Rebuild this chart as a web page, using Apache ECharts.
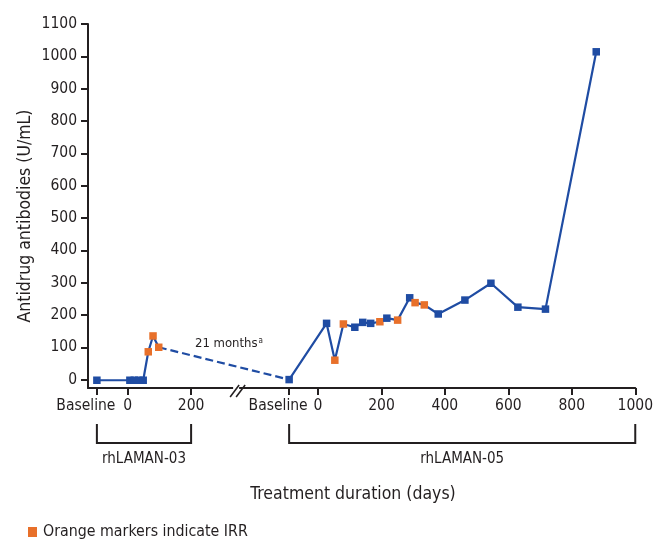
<!DOCTYPE html>
<html>
<head>
<meta charset="utf-8">
<script src="https://cdn.jsdelivr.net/npm/echarts@6/dist/echarts.min.js"></script>
<style>html,body{margin:0;padding:0;background:#fff}#c{width:656px;height:544px}</style>
</head>
<body>
<div id="c"></div>
<script>
// ---- data ----
const studies = ['rhLAMAN-03', 'rhLAMAN-05'];
const days03 = ['Baseline', 7, 21, 35, 49, 65, 80, 98];
const ada03  = [-2, -2, -2, -2, -2, 86, 135, 100];
const irr03  = [0, 0, 0, 0, 0, 1, 1, 1];
const days05 = ['Baseline', 27, 53, 80, 116, 141, 166, 195, 217, 251, 289, 306, 335, 379, 463, 545, 630, 717, 877];
const ada05  = [0, 174, 60, 172, 162, 177, 174, 179, 190, 184, 253, 238, 231, 203, 246, 298, 224, 218, 1014];
const irr05  = [0, 0, 1, 1, 0, 0, 0, 1, 0, 1, 0, 1, 1, 0, 0, 0, 0, 0, 0];
const xTicks03 = ['Baseline', 0, 200];
const xTicks05 = ['Baseline', 0, 200, 400, 600, 800, 1000];
const yTicks = [0, 100, 200, 300, 400, 500, 600, 700, 800, 900, 1000, 1100];
const gapLabel = '21 months';
const legendText = 'Orange markers indicate IRR';

// ---- layout helpers ----
const BLUE = '#1f4ca3', ORANGE = '#e8702a', INK = '#231f20';
const FONT = '"DejaVu Sans Condensed","Liberation Sans Narrow",sans-serif';
const SEG_OFFSET = [0, 600];
const BASELINE_POS = [-97, -91];
function toU(s, d) { return SEG_OFFSET[s] + (d === 'Baseline' ? BASELINE_POS[s] : d); }
function pts(s, days, vals, irr) {
  return days.map((d, i) => ({ value: [toU(s, d), vals[i]], itemStyle: { color: irr[i] ? ORANGE : BLUE } }));
}
const tickU = xTicks03.map(d => toU(0, d)).concat(xTicks05.map(d => toU(1, d)));
const tickText = xTicks03.map(String).concat(xTicks05.map(String));
function fmtX(v) {
  let best = 0, bd = Infinity;
  tickU.forEach((u, i) => { const dd = Math.abs(u - v); if (dd < bd) { bd = dd; best = i; } });
  const t = tickText[best];
  return t === 'Baseline' ? '{b|Baseline}' : t;
}

const chart = echarts.init(document.getElementById('c'), null, { renderer: 'canvas' });
const lineBase = {
  type: 'line', symbol: 'rect', symbolSize: 7.5, showAllSymbol: true,
  lineStyle: { color: BLUE, width: 2.2 }, itemStyle: { color: BLUE }, z: 3
};
chart.setOption({
  animation: false,
  textStyle: { fontFamily: FONT },
  grid: { left: 88, right: 20, top: 24, bottom: 156 },
  legend: {
    data: [{ name: legendText, icon: 'rect' }],
    left: 28, top: 524, padding: 0, itemWidth: 9, itemHeight: 10, itemGap: 5,
    textStyle: { fontSize: 15.8, color: INK, fontFamily: FONT, padding: [0, 0, 0, 1] }
  },
  xAxis: {
    type: 'value', min: -125, max: 1600,
    splitLine: { show: false },
    axisLine: { onZero: false, lineStyle: { color: INK, width: 2 } },
    axisTick: { customValues: tickU, length: 7, lineStyle: { color: INK, width: 2 } },
    axisLabel: {
      customValues: tickU, formatter: fmtX, margin: 10, fontSize: 15.5, color: INK, fontFamily: FONT,
      rich: { b: { fontSize: 15.5, color: INK, fontFamily: FONT, padding: [0, 22, 0, 0] } }
    }
  },
  yAxis: {
    type: 'value', min: -26, max: 1100,
    splitLine: { show: false },
    axisLine: { show: true, onZero: false, lineStyle: { color: INK, width: 2 } },
    axisTick: { show: true, customValues: yTicks, length: 7, lineStyle: { color: INK, width: 2 } },
    axisLabel: { customValues: yTicks, formatter: v => String(v), margin: 11, fontSize: 15.5, color: INK, fontFamily: FONT }
  },
  series: [
    {
      type: 'line', symbol: 'none', z: 2,
      data: [[toU(0, days03[days03.length - 1]), ada03[ada03.length - 1]], [toU(1, days05[0]), ada05[0]]],
      lineStyle: { color: BLUE, width: 2.2, type: [8, 4] }
    },
    Object.assign({}, lineBase, { name: studies[0], data: pts(0, days03, ada03, irr03) }),
    Object.assign({}, lineBase, { name: studies[1], data: pts(1, days05, ada05, irr05) }),
    { type: 'line', name: legendText, data: [], itemStyle: { color: ORANGE }, lineStyle: { color: ORANGE } }
  ]
});

const xPix = u => chart.convertToPixel({ xAxisIndex: 0 }, u);
const gfx = [];
[xTicks03, xTicks05].forEach((ticks, s) => {
  const x1 = xPix(toU(s, ticks[0])), x2 = xPix(toU(s, ticks[ticks.length - 1]));
  gfx.push({ type: 'polyline', shape: { points: [[x1, 424], [x1, 443], [x2, 443], [x2, 424]] },
    style: { stroke: INK, lineWidth: 2, fill: null } });
  gfx.push({ type: 'text', x: (x1 + x2) / 2, y: 459,
    style: { text: studies[s], font: '15px ' + FONT, fill: INK, align: 'center', verticalAlign: 'middle' } });
});
const xb = (xPix(toU(0, 200)) + xPix(toU(1, 'Baseline'))) / 2;
gfx.push({ type: 'rect', shape: { x: xb - 7, y: 385, width: 6, height: 6 }, style: { fill: '#fff' }, z: 100 });
gfx.push({ type: 'line', shape: { x1: xb - 10, y1: 397, x2: xb - 1, y2: 385 }, style: { stroke: INK, lineWidth: 1.6 }, z: 101 });
gfx.push({ type: 'line', shape: { x1: xb - 4, y1: 397, x2: xb + 5, y2: 385 }, style: { stroke: INK, lineWidth: 1.6 }, z: 101 });
gfx.push({ type: 'text', x: 229, y: 344,
  style: { text: gapLabel + '{sup|a}', font: '13px ' + FONT, fill: INK, align: 'center', verticalAlign: 'middle',
    rich: { sup: { font: '8px ' + FONT, fill: INK, verticalAlign: 'top', padding: [0, 0, 7, 1] } } } });
gfx.push({ type: 'text', x: 353, y: 494,
  style: { text: 'Treatment duration (days)', font: '17.5px ' + FONT, fill: INK, align: 'center', verticalAlign: 'middle' } });
gfx.push({ type: 'text', x: 25, y: 216, rotation: Math.PI / 2,
  style: { text: 'Antidrug antibodies (U/mL)', font: '17.5px ' + FONT, fill: INK, align: 'center', verticalAlign: 'middle' } });
chart.setOption({ graphic: gfx });
</script>
</body>
</html>
